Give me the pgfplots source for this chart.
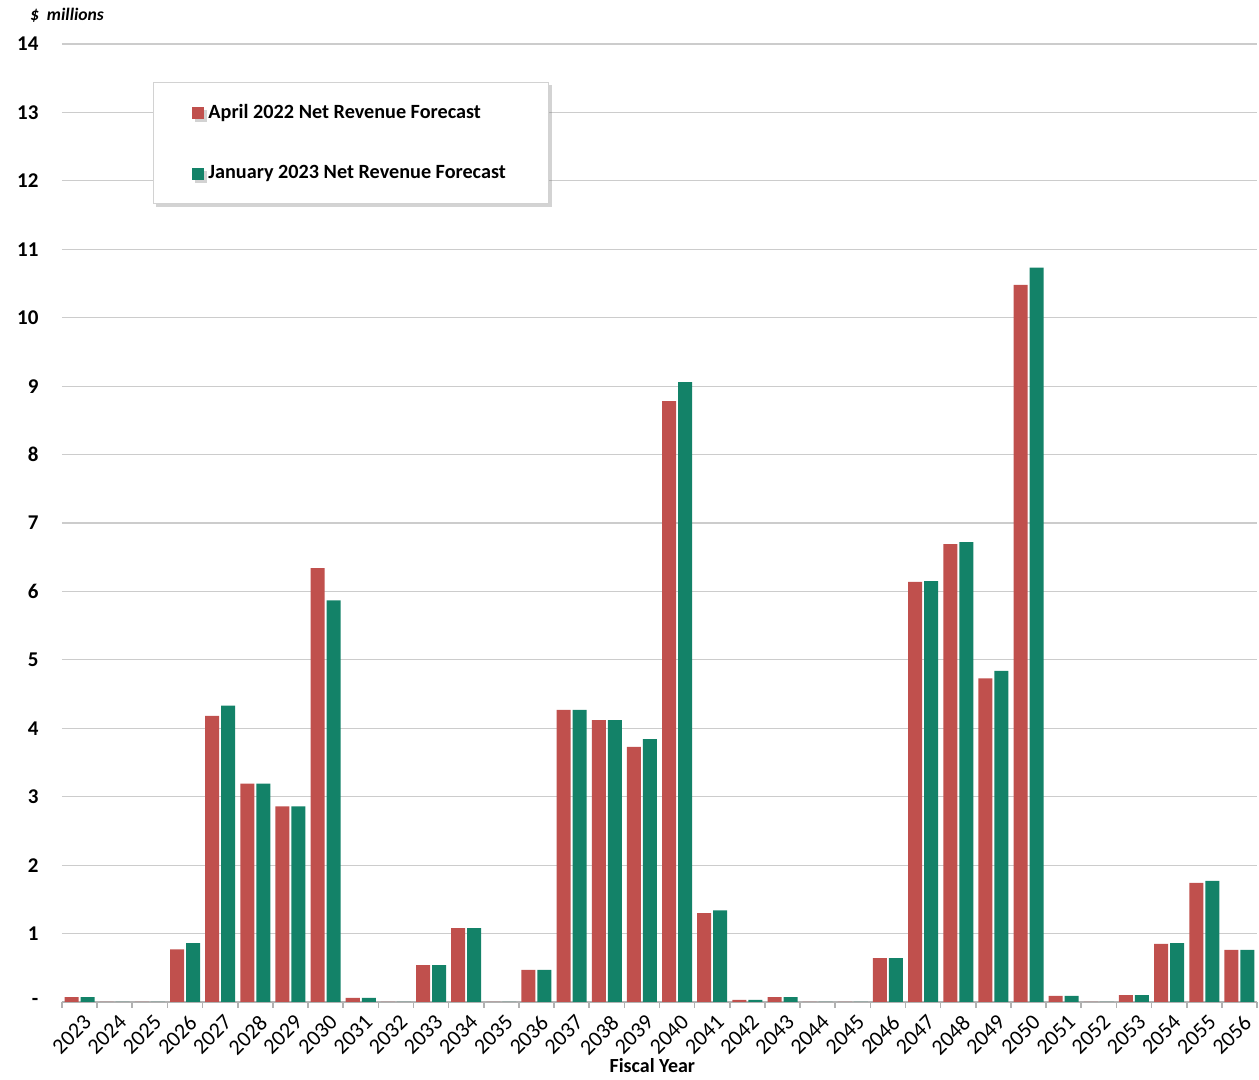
\documentclass[border=0pt]{standalone}
\usepackage{pgfplots}
\pgfplotsset{compat=1.18}
\usepackage{pgfplotstable}
\usepackage{fontspec}
\setmainfont{Carlito}
\usetikzlibrary{shadows}
\definecolor{cred}{HTML}{C0504D}
\definecolor{cgreen}{HTML}{138268}

\pgfplotstableread{
x red green
0 0.07 0.07
1 0 0
2 0 0
3 0.77 0.86
4 4.18 4.33
5 3.19 3.19
6 2.86 2.86
7 6.34 5.87
8 0.06 0.06
9 0 0
10 0.54 0.54
11 1.08 1.08
12 0 0
13 0.47 0.47
14 4.27 4.27
15 4.12 4.12
16 3.73 3.84
17 8.78 9.06
18 1.30 1.34
19 0.03 0.03
20 0.07 0.07
21 0 0
22 0 0
23 0.64 0.64
24 6.14 6.15
25 6.69 6.72
26 4.73 4.84
27 10.48 10.73
28 0.09 0.09
29 0 0
30 0.10 0.10
31 0.85 0.86
32 1.74 1.77
33 0.76 0.76
}\datatable

\begin{document}
\begin{tikzpicture}
\path[use as bounding box] (-31pt,-39pt) rectangle (598.5pt,501pt);
\begin{axis}[
  at={(0pt,0pt)}, anchor=south west,
  scale only axis, width=597.5pt, height=479pt,
  ybar, bar width=7pt,
  ymin=0, ymax=14, ytick={0,1,...,14},
  yticklabels={-,1,2,3,4,5,6,7,8,9,10,11,12,13,14},
  xmin=-0.5, xmax=33.5,
  xtick={0,1,...,33},
  xticklabels={2023,2024,2025,2026,2027,2028,2029,2030,2031,2032,2033,2034,2035,2036,2037,2038,2039,2040,2041,2042,2043,2044,2045,2046,2047,2048,2049,2050,2051,2052,2053,2054,2055,2056},
  minor xtick={-0.5,0.5,...,33.5},
  tick align=outside,
  major x tick style={draw=none},
  minor tick length=3pt,
  minor x tick style={draw=gray!60, line width=0.8pt},
  axis x line*=bottom, axis y line*=left,
  y axis line style={draw=none},
  ytick style={draw=none},
  x axis line style={draw=gray!60, line width=0.8pt},
  ymajorgrids, grid style={draw=gray!40, line width=0.6pt},
  /pgf/number format/assume math mode=true,
  xticklabel style={rotate=45, anchor=north east, font=\fontsize{11}{13}\selectfont, inner sep=1pt, xshift=1pt, yshift=-1pt},
  yticklabel style={font=\fontsize{10.5}{12}\selectfont\bfseries, xshift=-4pt},
  xlabel={Fiscal Year},
  xlabel style={at={(axis description cs:0.494,0)}, anchor=center, yshift=-32pt, font=\fontsize{10}{12}\selectfont\bfseries},
  legend style={at={(axis description cs:0.0762,0.9603)}, anchor=north west,
    draw=gray!35, fill=white,
    drop shadow={shadow xshift=1.5pt, shadow yshift=-1.5pt, opacity=0.35},
    font=\fontsize{10.1}{12}\selectfont\bfseries,
    row sep=18pt, inner xsep=19.5pt, inner ysep=9pt},
  legend cell align=left,
  legend image code/.code={\fill[#1] (0pt,-3pt) rectangle (6pt,3pt);},
]
\addplot[fill=cred, draw=none, bar shift=-4pt] table[x=x,y=red]{\datatable};
\addlegendentry{April 2022 Net Revenue Forecast}
\addplot[fill=cgreen, draw=none, bar shift=4pt] table[x=x,y=green]{\datatable};
\addlegendentry{January 2023 Net Revenue Forecast}
\end{axis}
\node[anchor=west, font=\fontsize{8.8}{10}\selectfont\bfseries\itshape] at (-19.5pt,493.5pt) {\$\ \ millions};
\end{tikzpicture}
\end{document}
